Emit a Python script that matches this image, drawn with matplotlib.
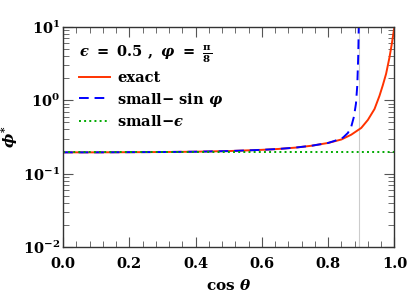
import numpy as np
import matplotlib
matplotlib.use("Agg")
import matplotlib.pyplot as plt
from matplotlib.ticker import MultipleLocator, LogLocator, NullFormatter

plt.rcParams['mathtext.fontset'] = 'custom'
plt.rcParams['mathtext.rm'] = 'DejaVu Serif:bold'
plt.rcParams['mathtext.bf'] = 'DejaVu Serif:bold'
plt.rcParams['mathtext.it'] = 'DejaVu Serif:italic:bold'
plt.rcParams['mathtext.default'] = 'rm'
plt.rcParams['font.family'] = 'serif'
plt.rcParams['font.serif'] = ['DejaVu Serif']
plt.rcParams['font.weight'] = 'bold'

# values
cos_exact = [0.0, 0.1, 0.2, 0.3, 0.4, 0.5, 0.6, 0.65, 0.7, 0.75, 0.8, 0.84,
             0.87, 0.9, 0.92, 0.94, 0.955, 0.965, 0.975, 0.985, 0.992, 1.0]
phi_exact = [0.195, 0.195, 0.196, 0.197, 0.199, 0.203, 0.211, 0.217, 0.226,
             0.240, 0.262, 0.292, 0.34, 0.42, 0.54, 0.76, 1.15, 1.6, 2.3,
             3.8, 5.8, 10.0]

cos_sin = [0.0, 0.1, 0.2, 0.3, 0.4, 0.5, 0.6, 0.65, 0.7, 0.75, 0.8, 0.82,
           0.845, 0.86, 0.87, 0.878, 0.884, 0.888, 0.891, 0.893]
phi_sin = [0.195, 0.195, 0.196, 0.197, 0.199, 0.203, 0.211, 0.217, 0.226,
           0.240, 0.262, 0.28, 0.31, 0.36, 0.44, 0.60, 0.9, 1.6, 4.2, 14.0]

cos_small_eps = [0.0, 1.0]
phi_small_eps = [0.195, 0.195]

pole = 0.893

x_ticks = [0.0, 0.2, 0.4, 0.6, 0.8, 1.0]
y_ticks = [1e-2, 1e-1, 1e0, 1e1]
y_labels = [r'$10^{-2}$', r'$10^{-1}$', r'$10^{0}$', r'$10^{1}$']

fig = plt.figure(figsize=(4.07, 3.03), dpi=100)
ax = fig.add_axes((0.155, 0.185, 0.814, 0.726))

ax.axvline(pole, color='#cccccc', lw=0.8, zorder=1)
ax.plot(cos_exact, phi_exact, '-', color='#ff3300', lw=1.4, label='exact')
ax.plot(cos_sin, phi_sin, '--', color='#0000ff', lw=1.4, dashes=(5, 3),
        label=r'small$-$ sin $\mathit{\varphi}$')
ax.plot(cos_small_eps, phi_small_eps, ':', color='#00aa00', lw=1.4,
        label='small$-\\mathit{\u03f5}$')

ax.set_yscale('log')
ax.set_xlim(0, 1)
ax.set_ylim(1e-2, 1e1)

ax.xaxis.set_minor_locator(MultipleLocator(0.04))
ax.yaxis.set_minor_locator(LogLocator(base=10, subs=np.arange(2, 10), numticks=10))
ax.yaxis.set_minor_formatter(NullFormatter())

ax.set_xticks(x_ticks)
ax.set_xticklabels(['%.1f' % v for v in x_ticks])
ax.set_yticks(y_ticks)
ax.set_yticklabels(y_labels)

ax.tick_params(which='both', direction='in', top=True, right=True,
               labelsize=10.5, color='#555555')
ax.tick_params(which='major', length=7, width=0.8)
ax.tick_params(which='minor', length=4, width=0.6)
ax.tick_params(axis='x', which='major', pad=7)
ax.tick_params(axis='y', which='major', pad=2)
for s in ax.spines.values():
    s.set_color('#333333')
    s.set_linewidth(1.0)

ax.set_xlabel(r'cos $\mathit{\theta}$', fontsize=11, fontweight='bold', labelpad=5)
ax.set_ylabel(r'$\mathit{\phi}^{*}$', fontsize=11)
ax.yaxis.set_label_coords(-0.13, 0.5)

leg = ax.legend(loc='upper left', frameon=False, fontsize=10.5,
                title='$\\mathit{\u03f5}\\ =\\ 0.5\\ ,\\ \\mathit{\\varphi}\\ =\\ \\frac{\\pi}{8}$',
                title_fontsize=10.5, handlelength=2.1, handletextpad=0.5,
                labelspacing=0.4, borderaxespad=0.7)
leg._legend_box.align = 'left'

fig.savefig('out.png', dpi=100)
